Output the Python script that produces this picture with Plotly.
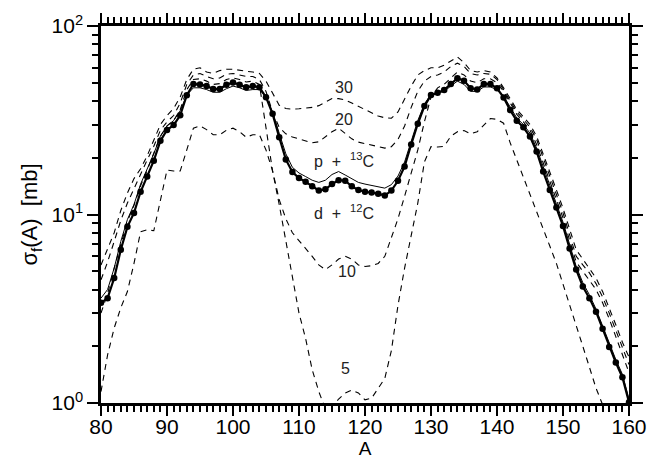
import math
import plotly.graph_objects as go

A = list(range(80, 161))

d12C = [3.4, 3.6, 4.6, 6.5, 8.6, 10.2, 13.2, 15.9, 19.3, 24.6,
        28.1, 29.8, 33.6, 42.9, 49.2, 49.0, 48.0, 46.3, 46.3, 48.8,
        50.2, 48.8, 47.3, 48.0, 47.3, 41.9, 34.2, 25.7, 19.6, 16.8,
        15.6, 14.9, 14.1, 13.4, 13.6, 14.5, 15.2, 15.1, 14.1, 13.5,
        13.2, 13.1, 12.9, 12.6, 13.4, 15.1, 18.0, 23.5, 30.3, 37.6,
        43.0, 44.2, 45.8, 49.2, 52.8, 51.3, 46.7, 46.1, 49.2, 49.2,
        46.7, 41.8, 35.8, 31.4, 29.0, 25.9, 21.6, 16.9, 13.5, 10.9,
        8.7, 6.6, 5.1, 4.15, 3.6, 3.05, 2.48, 1.98, 1.64, 1.37, 1.01]

p13C = [3.6, 4.0, 5.2, 7.2, 9.4, 11.3, 14.5, 17.5, 21.0, 26.0,
        29.5, 31.5, 35.5, 43.0, 47.0, 47.0, 46.0, 44.5, 44.5, 46.5,
        48.0, 47.0, 45.5, 46.0, 46.0, 42.0, 35.0, 27.0, 21.0, 17.8,
        16.6, 15.9, 15.2, 14.8, 15.2, 16.3, 16.9, 16.2, 15.4, 14.8,
        14.5, 14.3, 14.0, 13.8, 14.4, 16.0, 19.0, 24.5, 31.5, 38.5,
        43.5, 44.0, 45.0, 48.0, 51.0, 49.0, 45.0, 45.0, 47.5, 47.5,
        46.0, 42.5, 37.0, 32.5, 30.0, 27.0, 22.5, 17.8, 14.2, 11.4,
        9.1, 6.9, 5.3, 4.35, 3.75, 3.15, 2.55, 2.05, 1.7, 1.42, 1.05]

e30 = [5.4, 6.5, 8.0, 10.5, 13.0, 15.5, 17.5, 20.5, 25.0, 30.0,
       33.5, 36.5, 42.0, 52.0, 59.0, 60.0, 57.0, 56.0, 58.0, 59.0,
       59.0, 58.0, 57.5, 57.0, 56.0, 51.0, 44.0, 38.0, 36.5, 36.2,
       36.4, 36.6, 37.0, 37.8, 39.5, 41.2, 41.2, 40.5, 39.0, 37.5,
       36.0, 34.5, 33.3, 32.6, 32.4, 35.0, 41.0, 48.0, 55.0, 58.0,
       60.0, 60.0, 62.0, 65.0, 68.5, 64.0, 58.0, 57.0, 58.0, 57.0,
       53.0, 47.0, 41.0, 36.0, 33.0, 30.0, 26.0, 21.0, 17.0, 13.5,
       10.8, 8.3, 6.5, 5.8, 5.2, 4.6, 3.9, 3.2, 2.6, 2.1, 1.75]

e20 = [4.5, 5.6, 7.2, 9.3, 11.5, 13.8, 16.5, 19.5, 23.0, 28.0,
       31.0, 33.5, 39.0, 49.0, 55.0, 56.0, 54.0, 52.5, 53.0, 55.5,
       56.0, 55.0, 54.0, 54.0, 52.0, 45.0, 35.0, 29.0, 26.8, 25.8,
       25.2, 24.6, 24.0, 24.3, 25.8, 27.5, 28.7, 27.0, 25.2, 24.2,
       23.8, 23.4, 22.9, 22.5, 22.9, 25.0, 29.5, 37.0, 45.0, 51.0,
       54.0, 55.0, 57.0, 61.0, 63.5, 61.0, 56.0, 55.0, 56.0, 55.5,
       52.0, 46.0, 40.0, 35.0, 32.0, 29.0, 25.0, 20.0, 16.0, 12.8,
       10.2, 7.8, 6.0, 5.4, 4.9, 4.3, 3.65, 3.0, 2.45, 2.0, 1.6]

e10 = [3.0, 3.8, 5.2, 7.0, 9.2, 11.2, 14.2, 17.2, 21.0, 26.0,
       29.5, 31.5, 36.0, 46.0, 52.0, 52.5, 51.0, 49.0, 49.5, 52.0,
       53.0, 52.0, 50.5, 51.0, 49.0, 28.0, 17.0, 12.0, 9.5, 8.0,
       7.3, 6.6, 6.0, 5.4, 5.1, 5.4, 5.8, 6.0, 5.8, 5.4,
       5.3, 5.35, 5.5, 6.0, 7.5, 9.5, 12.5, 16.5, 22.0, 31.0,
       42.0, 47.0, 49.0, 53.0, 57.0, 55.0, 51.0, 50.0, 52.5, 52.5,
       50.0, 45.0, 39.0, 34.0, 31.0, 28.0, 23.5, 18.8, 15.0, 12.0,
       9.6, 7.3, 5.6, 5.0, 4.5, 4.0, 3.4, 2.8, 2.25, 1.8, 1.45]

e5 = [1.15, 1.8, 2.5, 3.2, 3.9, 5.5, 8.1, 8.3, 8.2, 12.0,
      17.2, 17.0, 17.0, 22.0, 28.7, 29.5, 28.2, 26.5, 26.5, 28.0,
      28.7, 27.5, 25.7, 26.5, 26.5, 22.0, 17.0, 11.3, 7.2, 4.5,
      3.0, 2.2, 1.5, 1.15, 0.93, 0.95, 1.05, 1.13, 1.17, 1.13,
      1.04, 1.06, 1.2, 1.35, 1.9, 3.3, 5.2, 7.6, 11.5, 19.0,
      22.9, 22.8, 23.0, 26.0, 27.5, 27.9, 26.8, 27.5, 30.0, 32.3,
      32.0, 30.5, 24.0, 19.5, 16.0, 13.0, 10.5, 8.4, 6.8, 5.5,
      4.3, 3.3, 2.6, 2.0, 1.55, 1.2, 0.98, None, None, None, None]

x_major = [80, 90, 100, 110, 120, 130, 140, 150, 160]
y_major = [1, 10, 100]
y_major_text = ["10<sup>0</sup>", "10<sup>1</sup>", "10<sup>2</sup>"]
y_minor = [2, 3, 4, 5, 6, 7, 8, 9, 20, 30, 40, 50, 60, 70, 80, 90]

labels = [
    (116.8, 47.0, "30"),
    (116.8, 32.0, "20"),
    (116.8, 19.4, "p  +  <sup>13</sup>C"),
    (116.8, 10.3, "d  +  <sup>12</sup>C"),
    (117.2, 5.0, "10"),
    (117.0, 1.53, "5"),
]

FONT = "Liberation Sans"
fig = go.Figure()

dash_style = dict(color="black", width=1.1, dash="6px,5px")
for ys in (e30, e20, e10, e5):
    fig.add_trace(go.Scatter(x=A, y=ys, mode="lines", line=dash_style,
                             showlegend=False, hoverinfo="skip"))

fig.add_trace(go.Scatter(x=A, y=p13C, mode="lines",
                         line=dict(color="black", width=1),
                         showlegend=False))
fig.add_trace(go.Scatter(x=A, y=d12C, mode="lines+markers",
                         line=dict(color="black", width=2.2),
                         marker=dict(color="black", size=6.5),
                         showlegend=False))

for x, y, t in labels:
    fig.add_annotation(x=x, y=math.log10(y), yref="y", xref="x", text=t,
                       showarrow=False,
                       font=dict(family=FONT, size=16, color="#222"))

axis_common = dict(showgrid=False, zeroline=False, showline=True,
                   linecolor="black", linewidth=2.5, ticks="outside",
                   tickcolor="black", tickwidth=2, mirror="allticks",
                   automargin=False,
                   tickfont=dict(family=FONT, size=21, color="black"))

fig.update_xaxes(range=[80, 160], tickmode="array", tickvals=x_major,
                 ticklen=10, ticklabelstandoff=-7,
                 minor=dict(dtick=1, ticklen=6, tickwidth=2, ticks="outside",
                            tickcolor="black"),
                 title=dict(text="A", font=dict(family=FONT, size=19, color="black"),
                            standoff=2),
                 **axis_common)
fig.update_yaxes(type="log", range=[0, 2], tickmode="array", tickvals=y_major,
                 ticktext=y_major_text, ticklen=11,
                 minor=dict(tickvals=y_minor, ticklen=6, tickwidth=2,
                            ticks="outside", tickcolor="black"),
                 title=dict(text="σ<sub>f</sub>(A)  [mb]",
                            font=dict(family=FONT, size=22, color="black"),
                            standoff=8),
                 **axis_common)

fig.update_layout(width=648, height=461,
                  margin=dict(l=101, r=19, t=26, b=58),
                  paper_bgcolor="white", plot_bgcolor="white")

fig.write_html("out.html", config={"displayModeBar": False},
               post_script="document.body.style.margin='0px';"
                           "document.body.style.padding='0px';")
